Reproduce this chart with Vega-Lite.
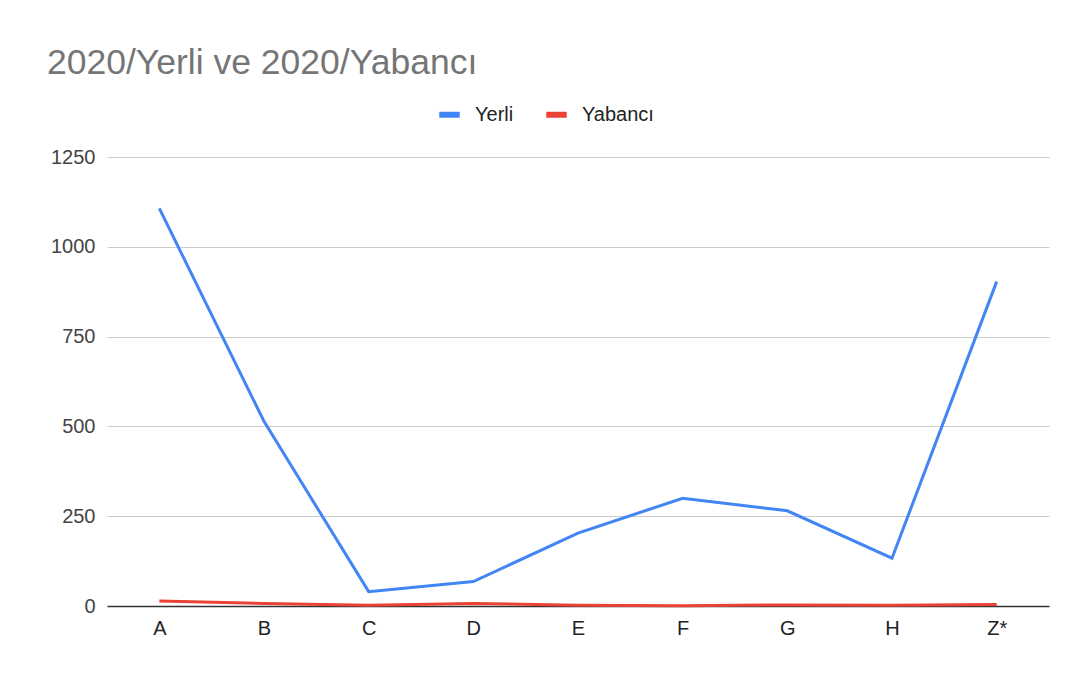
{
  "$schema": "https://vega.github.io/schema/vega-lite/v6.json",
  "autosize": "none",
  "width": 942,
  "height": 449,
  "padding": {"left": 107, "top": 157, "right": 31, "bottom": 74},
  "background": "white",
  "title": {
    "text": "2020/Yerli ve 2020/Yabancı",
    "anchor": "start",
    "frame": "group",
    "dx": -60,
    "offset": 20,
    "fontSize": 35.5,
    "font": "Liberation Sans",
    "fontWeight": "normal",
    "color": "#757575"
  },
  "data": {
    "values": [
      {"kategori": "A", "seri": "Yerli", "deger": 1107},
      {"kategori": "B", "seri": "Yerli", "deger": 514},
      {"kategori": "C", "seri": "Yerli", "deger": 40},
      {"kategori": "D", "seri": "Yerli", "deger": 68},
      {"kategori": "E", "seri": "Yerli", "deger": 203},
      {"kategori": "F", "seri": "Yerli", "deger": 300},
      {"kategori": "G", "seri": "Yerli", "deger": 265},
      {"kategori": "H", "seri": "Yerli", "deger": 133},
      {"kategori": "Z*", "seri": "Yerli", "deger": 903},
      {"kategori": "A", "seri": "Yabancı", "deger": 14},
      {"kategori": "B", "seri": "Yabancı", "deger": 7},
      {"kategori": "C", "seri": "Yabancı", "deger": 2},
      {"kategori": "D", "seri": "Yabancı", "deger": 7},
      {"kategori": "E", "seri": "Yabancı", "deger": 2},
      {"kategori": "F", "seri": "Yabancı", "deger": 1},
      {"kategori": "G", "seri": "Yabancı", "deger": 3},
      {"kategori": "H", "seri": "Yabancı", "deger": 2},
      {"kategori": "Z*", "seri": "Yabancı", "deger": 4}
    ]
  },
  "mark": {"type": "line", "strokeWidth": 3},
  "encoding": {
    "x": {
      "field": "kategori",
      "type": "ordinal",
      "sort": null,
      "scale": {"type": "point", "padding": 0.5},
      "axis": {
        "title": null,
        "labelAngle": 0,
        "labelFont": "Liberation Sans",
        "labelFontSize": 20,
        "labelColor": "#222222",
        "labelPadding": 12,
        "ticks": false,
        "grid": false,
        "domainColor": "#333333",
        "domainWidth": 1.5
      }
    },
    "y": {
      "field": "deger",
      "type": "quantitative",
      "scale": {"domain": [0, 1250], "nice": false},
      "axis": {
        "title": null,
        "values": [0, 250, 500, 750, 1000, 1250],
        "format": "d",
        "labelFont": "Liberation Sans",
        "labelFontSize": 20,
        "labelColor": "#444444",
        "labelPadding": 12,
        "ticks": false,
        "domain": false,
        "gridColor": "#cccccc",
        "gridWidth": 1
      }
    },
    "color": {
      "field": "seri",
      "type": "nominal",
      "sort": ["Yerli", "Yabancı"],
      "scale": {"domain": ["Yerli", "Yabancı"], "range": ["#4285F4", "#EA4335"]},
      "legend": {
        "title": null,
        "orient": "none",
        "direction": "horizontal",
        "legendX": 329,
        "legendY": -56,
        "symbolType": "stroke",
        "symbolSize": 420,
        "symbolStrokeWidth": 6,
        "labelFont": "Liberation Sans",
        "labelFontSize": 20,
        "labelColor": "#222222",
        "labelOffset": 12,
        "columnPadding": 20
      }
    }
  },
  "config": {"view": {"stroke": null}}
}
